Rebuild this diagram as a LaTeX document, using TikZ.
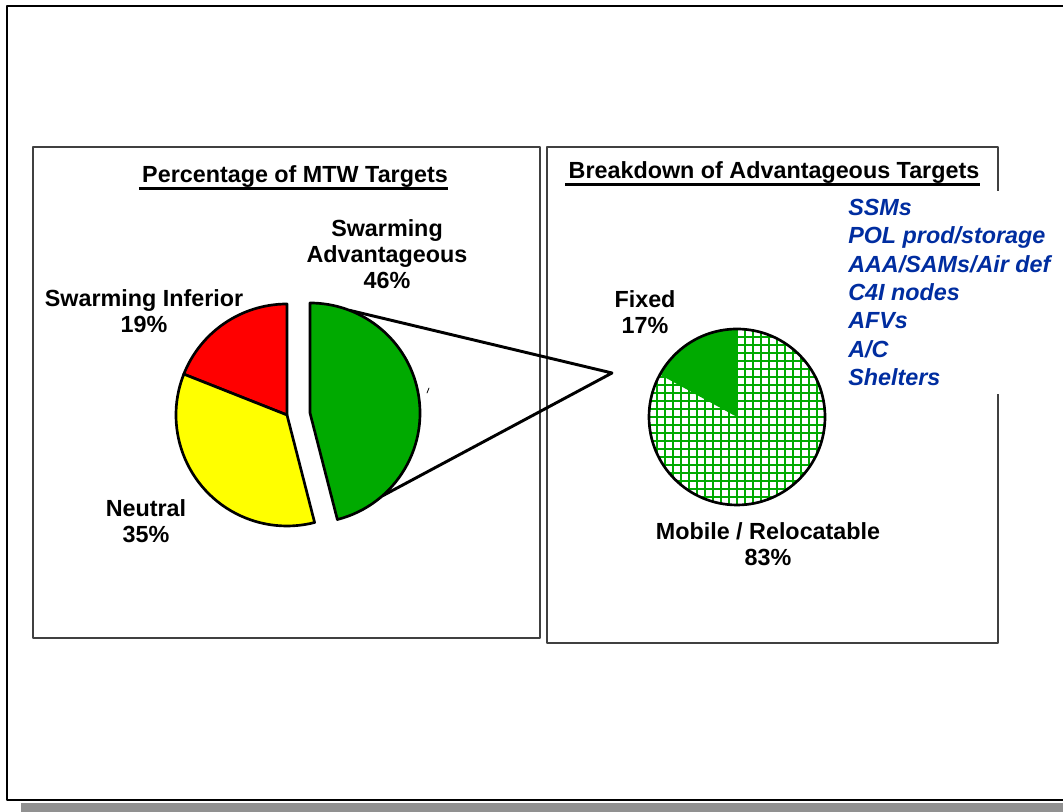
\documentclass[tikz,border=0pt]{standalone}
\usepackage{fontspec}
\setmainfont{Liberation Sans}
\usepackage{tikz}
\usetikzlibrary{calc}
\definecolor{pptgreen}{RGB}{0,170,0}
\definecolor{pptred}{RGB}{255,0,0}
\definecolor{pptyellow}{RGB}{255,255,0}
\definecolor{pptblue}{RGB}{0,45,160}
\definecolor{pptshadow}{RGB}{145,145,145}

\begin{document}
\begin{tikzpicture}[x=0.75pt, y=0.75pt, line cap=round, line join=round,
		lbl/.style={font=\fontsize{17.5}{19.5}\selectfont\bfseries, align=center, inner sep=0pt},
		ttl/.style={font=\fontsize{17.5}{19.5}\selectfont\bfseries, inner sep=0pt, anchor=base},
		slice/.style={draw=black, line width=2pt}]
			\useasboundingbox (0,0) rectangle (1063,812);

			% -- Slide frame and shadow --
			\fill[pptshadow] (21,0) rectangle (1063,9);
			\draw[line width=2.2pt, fill=white] (7,12) rectangle (1075,806);

			% -- Panels --
			\draw[line width=0.8pt, black!75] (33,174) rectangle (540,665);
			\draw[line width=0.8pt, black!75] (547,169) rectangle (998,665);

			% -- Left pie (MTW targets) --
			\coordinate (mtw) at (287,397);
			\draw[slice, fill=pptred] (mtw) -- ++(90:111) arc (90:158.4:111) -- cycle;
			\draw[slice, fill=pptyellow] (mtw) -- ++(158.4:111) arc (158.4:284.4:111) -- cycle;

			% exploded slice and its zoom lines
			\coordinate (adv) at (310,399);
			\coordinate (vertex) at (612,439);
			\coordinate (advtop) at ($(adv)+(69:110)$);
			\coordinate (advbot) at ($(adv)+(-49:110)$);
			\draw[line width=2.2pt] (advtop) -- (vertex) -- (advbot);
			\draw[slice, fill=pptgreen] (adv) -- ++(-75.6:110) arc (-75.6:90:110) -- cycle;
			\draw[line width=0.6pt] (427,419) -- (429,424);

			% -- Right pie (breakdown) --
			\coordinate (brk) at (737,395);
			\begin{scope}
				\clip (brk) circle (88);
				\foreach \k in {-12,...,12} {
					\draw[pptgreen, line width=1.4pt] ($(brk)+(\k*8,-90)$) -- ++(0,180);
					\draw[pptgreen, line width=1.4pt] ($(brk)+(-90,\k*8)$) -- ++(180,0);
				}
			\end{scope}
			\fill[pptgreen] (brk) -- ++(90:88) arc (90:151.2:88) -- cycle;
			\draw[line width=2pt] (brk) circle (88);

			% -- Titles --
			\node[ttl] (mtwtitle) at (295,629) {Percentage of MTW Targets};
			\draw[line width=2pt, line cap=butt] ($(mtwtitle.base west)+(-3,-5.5)$) -- ($(mtwtitle.base east)+(0,-5.5)$);
			\node[ttl] (brktitle) at (774,633) {Breakdown of Advantageous Targets};
			\draw[line width=2pt, line cap=butt] ($(brktitle.base west)+(-3,-5.5)$) -- ($(brktitle.base east)+(0,-5.5)$);

			% -- Slice labels --
			\node[lbl] (advlbl) at (387,558) {Swarming\\Advantageous\\46\%};
			\node[lbl] (inflbl) at (144,501) {Swarming Inferior\\19\%};
			\node[lbl] (neulbl) at (146,291) {Neutral\\35\%};
			\node[lbl] (fixlbl) at (645,500) {Fixed\\17\%};
			\node[lbl] (moblbl) at (768,268) {Mobile / Relocatable\\83\%};

			% -- Target list --
			\node[font=\fontsize{17.5}{21.2}\selectfont\bfseries\itshape, text=pptblue, fill=white, align=left,
				anchor=west, inner xsep=6pt, inner ysep=6pt] (tgtlist) at (840,519.5)
				{SSMs\\POL prod/storage\\AAA/SAMs/Air def\\C4I nodes\\AFVs\\A/C\\Shelters};

		\end{tikzpicture}
\end{document}
